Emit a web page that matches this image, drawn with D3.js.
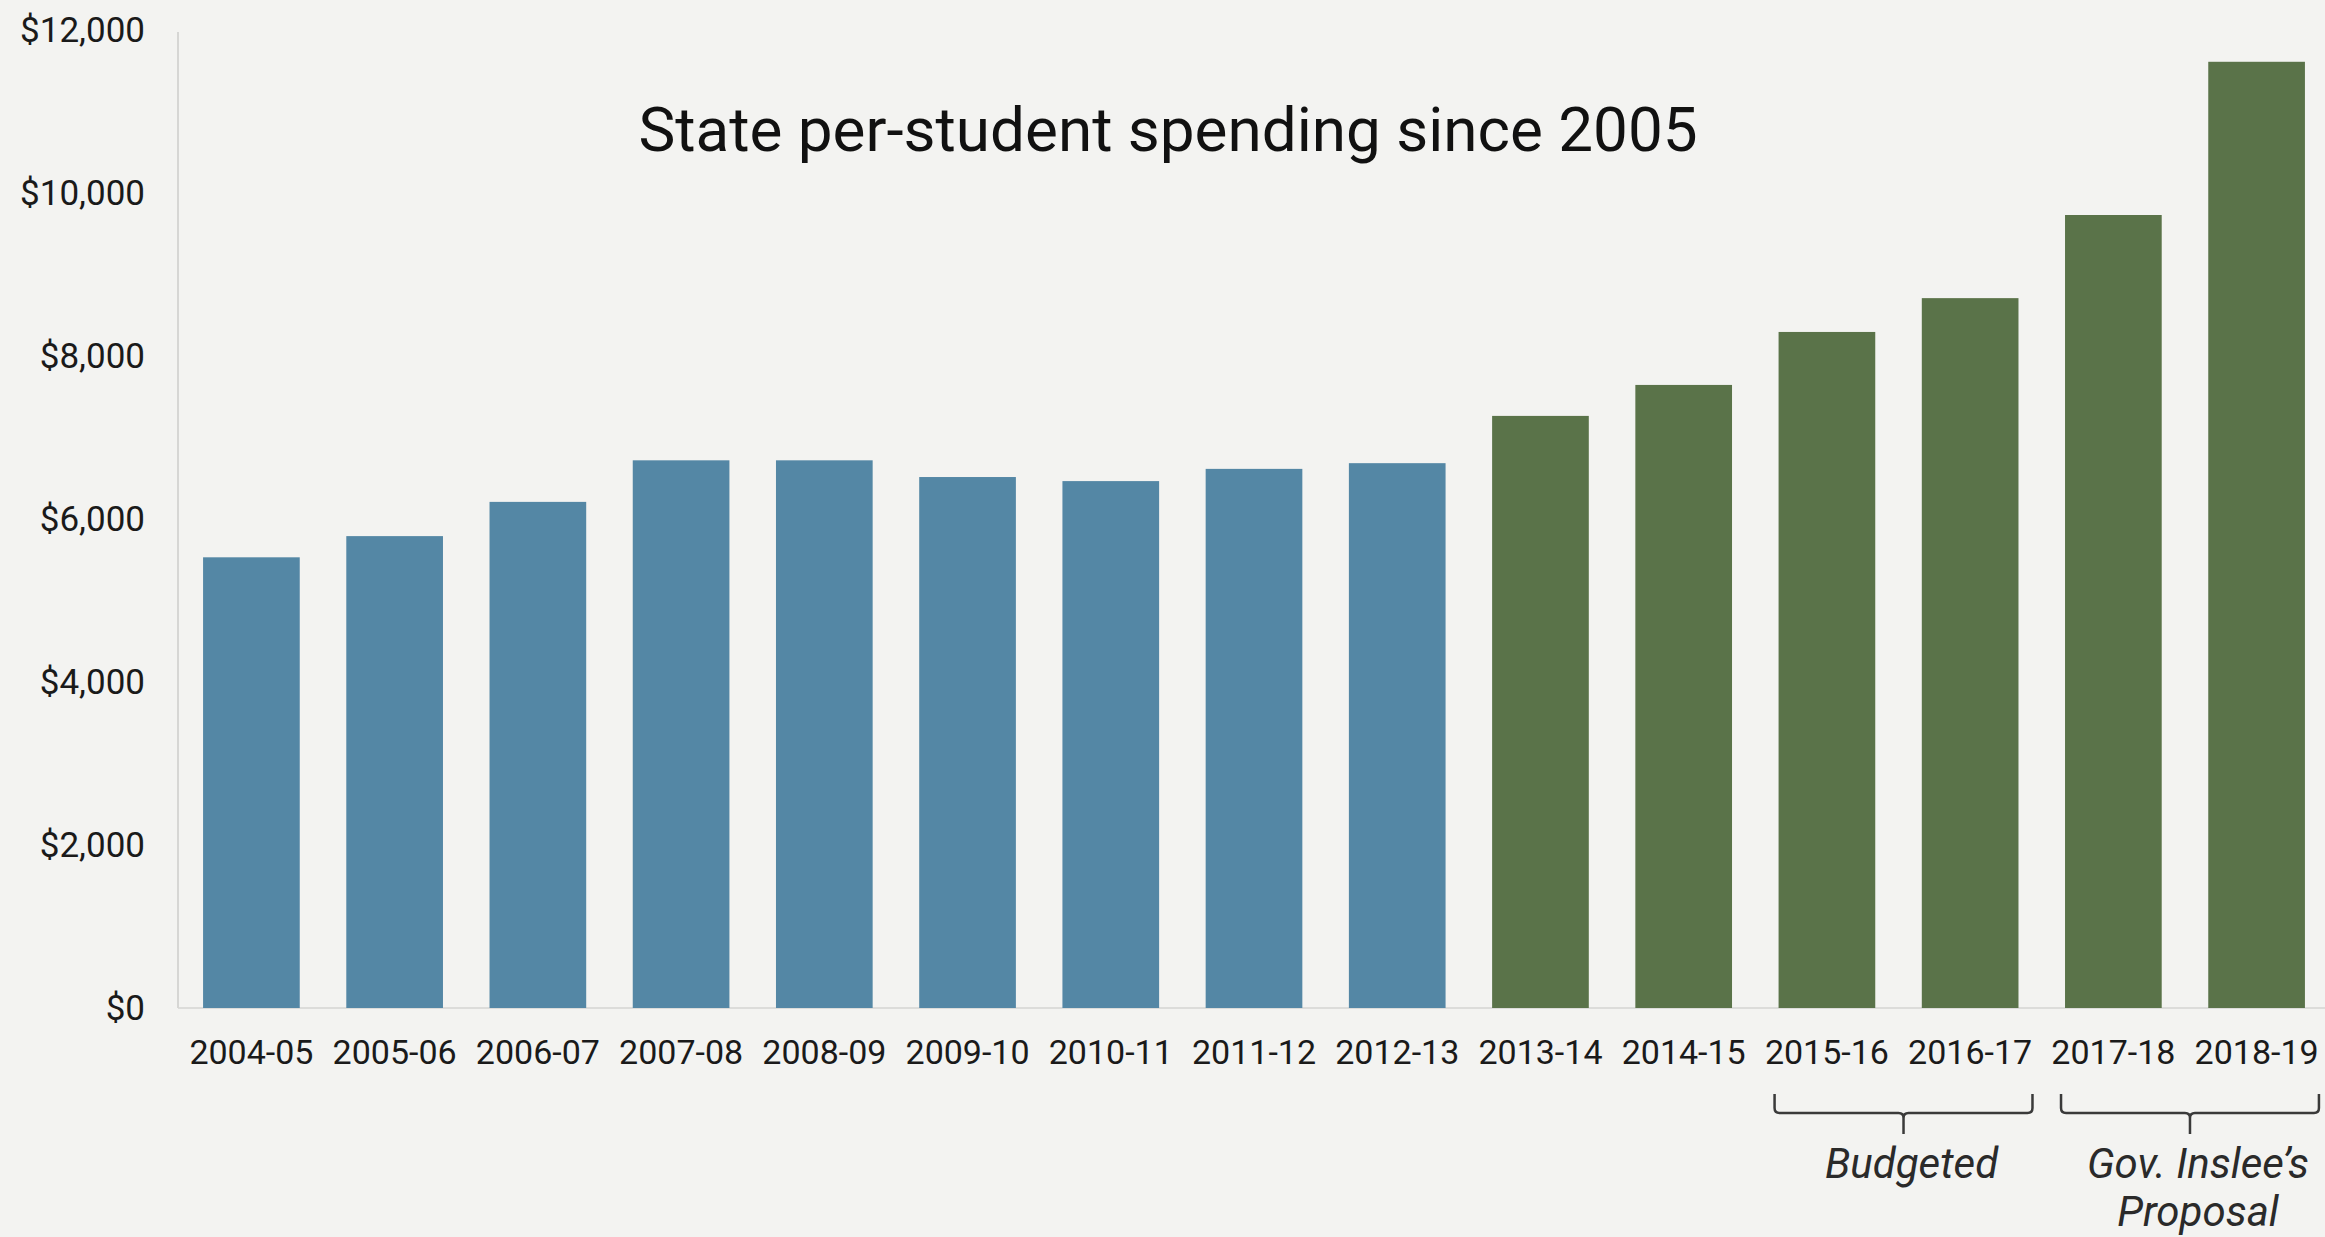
<!DOCTYPE html>
<html>
<head>
<meta charset="utf-8">
<script src="https://cdn.jsdelivr.net/npm/d3@7"></script>
<style>
  html, body { margin: 0; padding: 0; background: #f3f3f1; overflow: hidden; }
  svg { display: block; font-family: Roboto, "Noto Sans", sans-serif; }
</style>
</head>
<body>
<div id="chart"></div>
<script>
const years = ["2004-05", "2005-06", "2006-07", "2007-08", "2008-09", "2009-10", "2010-11",
  "2011-12", "2012-13", "2013-14", "2014-15", "2015-16", "2016-17", "2017-18", "2018-19"];
const spending = [5530, 5790, 6210, 6720, 6720, 6515, 6465, 6615, 6685, 7265, 7645, 8295, 8710, 9730, 11610];
// first green year
const greenFrom = "2013-14";
const yTicks = [0, 2000, 4000, 6000, 8000, 10000, 12000];
const groups = [
  { from: "2015-16", to: "2016-17", lines: ["Budgeted"] },
  { from: "2017-18", to: "2018-19", lines: ["Gov. Inslee\u2019s", "Proposal"] }
];

const width = 2325, height = 1237;
const blue = "#5487a5", green = "#5a7349";

const svg = d3.select("#chart").append("svg")
  .attr("width", width)
  .attr("height", height);

const x = d3.scaleBand()
  .domain(years)
  .range([178, 2330])
  .paddingInner(0.325)
  .paddingOuter(0.175);

const y = d3.scaleLinear()
  .domain([0, 12000])
  .range([1008, 30]);

// baseline
svg.append("line")
  .attr("x1", 178).attr("x2", width)
  .attr("y1", y(0)).attr("y2", y(0))
  .attr("stroke", "#dcdcda")
  .attr("stroke-width", 2);

const greenIdx = years.indexOf(greenFrom);

svg.append("g")
  .selectAll("rect")
  .data(years)
  .join("rect")
    .attr("x", d => x(d))
    .attr("y", (d, i) => y(spending[i]))
    .attr("width", x.bandwidth())
    .attr("height", (d, i) => y(0) - y(spending[i]))
    .attr("fill", (d, i) => i >= greenIdx ? green : blue);

// y axis
const yAxis = svg.append("g")
  .attr("transform", "translate(178,0)")
  .call(d3.axisLeft(y).tickValues(yTicks).tickFormat(d3.format("$,")).tickSize(0).tickPadding(33));
yAxis.select(".domain").attr("stroke", "#d6d6d4").attr("stroke-width", 2)
  .attr("d", `M0,${y(12000) + 2}V${y(0)}`);
yAxis.selectAll("text").attr("font-size", 35).attr("fill", "#1a1a1a")
  .attr("font-family", "Roboto, sans-serif");

// x axis
const xAxis = svg.append("g")
  .attr("transform", `translate(0,${y(0)})`)
  .call(d3.axisBottom(x).tickSize(0).tickPadding(32));
xAxis.select(".domain").remove();
xAxis.selectAll("text").attr("font-size", 34).attr("fill", "#1a1a1a")
  .attr("font-family", "Roboto, sans-serif");

// title
svg.append("text")
  .attr("x", 1168)
  .attr("y", 151)
  .attr("text-anchor", "middle")
  .attr("font-size", 62)
  .attr("fill", "#111")
  .text("State per-student spending since 2005");

// brackets
const yLine = 1113, yTop = 1094, yStem = 1134, r = 5;
groups.forEach(g => {
  const left = x(g.from), right = x(g.to) + x.bandwidth();
  const cx = (left + right) / 2 + 5;
  const half = (right - left) / 2 + 9;
  const x0 = cx - half, x1 = cx + half;
  const path = d3.path();
  path.moveTo(x0, yTop);
  path.lineTo(x0, yLine - r);
  path.quadraticCurveTo(x0, yLine, x0 + r, yLine);
  path.lineTo(cx - r, yLine);
  path.quadraticCurveTo(cx, yLine, cx, yLine + r);
  path.lineTo(cx, yStem);
  path.moveTo(cx, yLine + r);
  path.quadraticCurveTo(cx, yLine, cx + r, yLine);
  path.lineTo(x1 - r, yLine);
  path.quadraticCurveTo(x1, yLine, x1, yLine - r);
  path.lineTo(x1, yTop);
  svg.append("path")
    .attr("d", path.toString())
    .attr("fill", "none")
    .attr("stroke", "#3a3a3a")
    .attr("stroke-width", 2.5);

  svg.append("text")
    .attr("x", cx + 8)
    .attr("y", 1178)
    .attr("text-anchor", "middle")
    .attr("font-size", 42)
    .attr("font-style", "italic")
    .attr("fill", "#2a2a2a")
    .selectAll("tspan")
    .data(g.lines)
    .join("tspan")
      .attr("x", cx + 8)
      .attr("dy", (d, i) => i === 0 ? 0 : 48)
      .text(d => d);
});
</script>
</body>
</html>
